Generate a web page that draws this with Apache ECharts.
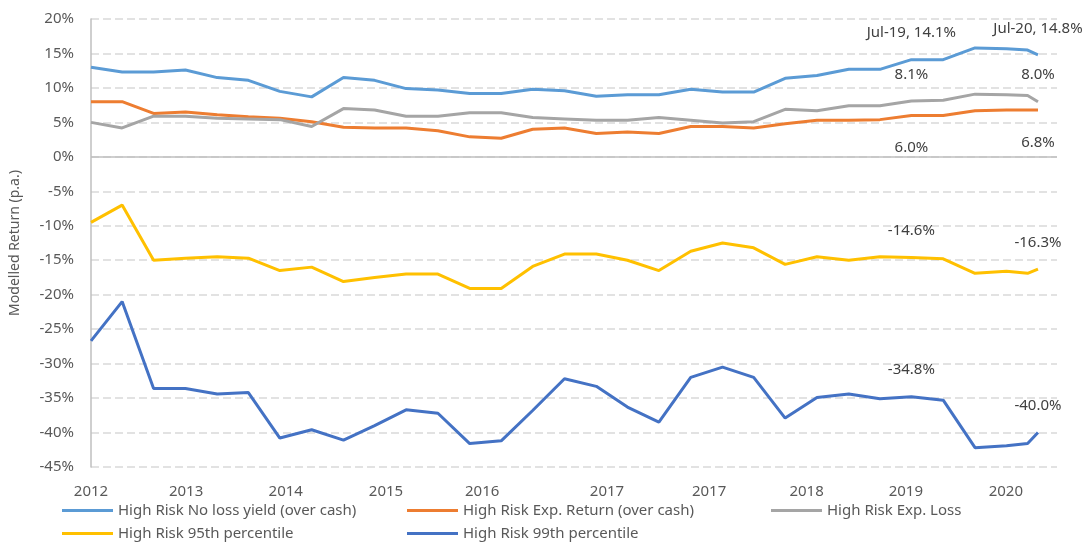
<!DOCTYPE html>
<html>
<head>
<meta charset="utf-8">
<script src="https://cdn.jsdelivr.net/npm/echarts@6/dist/echarts.min.js"></script>
<style>
  html, body { margin: 0; padding: 0; background: #fff; }
  #chart { width: 1088px; height: 544px; }
</style>
</head>
<body>
<div id="chart"></div>
<script>
// quarterly points, then the 2020 months
const dates = [
  '2013-01-01', '2013-04-01', '2013-07-01', '2013-10-01',
  '2014-01-01', '2014-04-01', '2014-07-01', '2014-10-01',
  '2015-01-01', '2015-04-01', '2015-07-01', '2015-10-01',
  '2016-01-01', '2016-04-01', '2016-07-01', '2016-10-01',
  '2017-01-01', '2017-04-01', '2017-07-01', '2017-10-01',
  '2018-01-01', '2018-04-01', '2018-07-01', '2018-10-01',
  '2019-01-01', '2019-04-01', '2019-07-01', '2019-10-01',
  '2020-01-01', '2020-04-01', '2020-06-01', '2020-07-01'
];

const noLossYield = [13.0, 12.3, 12.3, 12.6, 11.5, 11.1, 9.5, 8.7, 11.5, 11.1,
  9.9, 9.7, 9.2, 9.2, 9.8, 9.6, 8.8, 9.0, 9.0, 9.8,
  9.4, 9.4, 11.4, 11.8, 12.7, 12.7, 14.1, 14.1, 15.8, 15.7, 15.5, 14.8];
const expReturn = [8.0, 8.0, 6.3, 6.5, 6.1, 5.8, 5.6, 5.1, 4.3, 4.2,
  4.2, 3.8, 2.9, 2.7, 4.0, 4.2, 3.4, 3.6, 3.4, 4.4,
  4.4, 4.2, 4.8, 5.3, 5.3, 5.4, 6.0, 6.0, 6.7, 6.8, 6.8, 6.8];
const expLoss = [5.0, 4.2, 5.9, 5.9, 5.6, 5.5, 5.4, 4.4, 7.0, 6.8,
  5.9, 5.9, 6.4, 6.4, 5.7, 5.5, 5.3, 5.3, 5.7, 5.3,
  4.9, 5.1, 6.9, 6.7, 7.4, 7.4, 8.1, 8.2, 9.1, 9.0, 8.9, 8.0];
const pct95 = [-9.5, -7.0, -15.0, -14.7, -14.5, -14.7, -16.5, -16.0, -18.1, -17.5,
  -17.0, -17.0, -19.1, -19.1, -15.9, -14.1, -14.1, -15.0, -16.5, -13.7,
  -12.5, -13.2, -15.6, -14.5, -15.0, -14.5, -14.6, -14.8, -16.9, -16.6, -16.9, -16.3];
const pct99 = [-26.7, -21.0, -33.6, -33.6, -34.4, -34.2, -40.8, -39.6, -41.1, -39.0,
  -36.7, -37.2, -41.6, -41.2, -36.8, -32.2, -33.3, -36.3, -38.5, -32.0,
  -30.5, -32.0, -37.9, -34.9, -34.4, -35.1, -34.8, -35.3, -42.2, -41.9, -41.6, -40.0];

// points that carry a data label (Jul-19 and Jul-20)
const labelled = [26, 31];

// where the x labels sit and what they say
const xTickDates = ['2013-01-01', '2013-10-03', '2014-07-18', '2015-05-04', '2016-02-06',
  '2017-02-01', '2017-11-23', '2018-09-01', '2019-06-15', '2020-03-30'];
const xTickLabels = ['2012', '2013', '2014', '2015', '2016', '2017', '2017', '2018', '2019', '2020'];

const months = ['Jan', 'Feb', 'Mar', 'Apr', 'May', 'Jun', 'Jul', 'Aug', 'Sep', 'Oct', 'Nov', 'Dec'];
const font = 'Noto Sans';
const toTime = d => echarts.number.parseDate(d).getTime();
const tickTimes = xTickDates.map(toTime);

function line(name, values, color, pos, dist, withDate) {
  return {
    name: name,
    type: 'line',
    symbol: 'circle',
    symbolSize: 0,
    showSymbol: true,
    lineStyle: { width: 3, color: color },
    itemStyle: { color: color },
    data: dates.map((d, i) => ({
      value: [toTime(d), values[i]],
      label: { show: labelled.indexOf(i) >= 0 }
    })),
    label: {
      position: pos,
      distance: dist,
      color: '#404040',
      fontFamily: font,
      fontSize: 15,
      formatter: p => {
        const v = p.value[1].toFixed(1) + '%';
        if (!withDate) return v;
        const dt = new Date(p.value[0]);
        return months[dt.getMonth()] + '-' + String(dt.getFullYear()).slice(2) + ', ' + v;
      }
    }
  };
}

const series = [
  line('High Risk No loss yield (over cash)', noLossYield, '#5B9BD5', 'top', 19, true),
  line('High Risk Exp. Return (over cash)', expReturn, '#ED7D31', 'bottom', 25, false),
  line('High Risk Exp. Loss', expLoss, '#A5A5A5', 'top', 19, false),
  line('High Risk 95th percentile', pct95, '#FFC000', 'top', 19, false),
  line('High Risk 99th percentile', pct99, '#4472C4', 'top', 19, false)
];
// solid zero line
series[0].markLine = {
  silent: true,
  symbol: 'none',
  label: { show: false },
  lineStyle: { color: '#BFBFBF', width: 1.5, type: 'solid' },
  data: [{ yAxis: 0 }]
};

// one legend per entry, laid out in two rows like the original
function legend(left, top, name) {
  return {
    left: left,
    top: top,
    padding: 0,
    itemWidth: 51,
    itemHeight: 3,
    icon: 'rect',
    textStyle: { color: '#595959', fontFamily: font, fontSize: 15, lineHeight: 17 },
    data: [name]
  };
}

const chart = echarts.init(document.getElementById('chart'));
chart.setOption({
  animation: false,
  backgroundColor: '#fff',
  grid: { left: 89, right: 31, top: 19, bottom: 77 },
  legend: [
    legend(62, 502, series[0].name),
    legend(407, 502, series[1].name),
    legend(771, 502, series[2].name),
    legend(62, 525, series[3].name),
    legend(407, 525, series[4].name)
  ],
  xAxis: {
    type: 'value',
    min: toTime('2013-01-01'),
    max: toTime('2020-08-25'),
    axisLine: { show: false },
    axisTick: { show: false },
    splitLine: { show: false },
    axisLabel: {
      customValues: tickTimes,
      margin: 17,
      color: '#595959',
      fontFamily: font,
      fontSize: 15,
      formatter: value => {
        let best = 0;
        tickTimes.forEach((t, i) => {
          if (Math.abs(t - value) < Math.abs(tickTimes[best] - value)) best = i;
        });
        return xTickLabels[best];
      }
    }
  },
  yAxis: {
    type: 'value',
    min: -45,
    max: 20,
    interval: 5,
    name: 'Modelled Return (p.a.)',
    nameLocation: 'middle',
    nameRotate: 90,
    nameGap: 69,
    nameTextStyle: { color: '#595959', fontFamily: font, fontSize: 14 },
    axisLine: { show: true, lineStyle: { color: '#BFBFBF', width: 1.5 } },
    axisTick: { show: false },
    axisLabel: {
      margin: 17,
      color: '#595959',
      fontFamily: font,
      fontSize: 15,
      formatter: '{value}%'
    },
    splitLine: { lineStyle: { color: '#D9D9D9', width: 1.5, type: [8, 4] } }
  },
  series: series
});
</script>
</body>
</html>
